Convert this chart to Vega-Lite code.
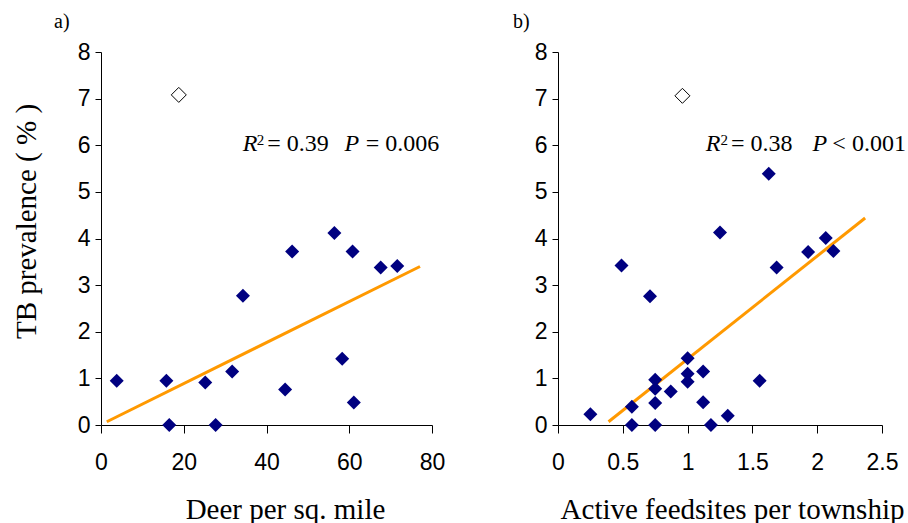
{
  "$schema": "https://vega.github.io/schema/vega-lite/v6.json",
  "background": "white",
  "padding": {"left": 12, "top": 12, "right": 0, "bottom": 0},
  "spacing": 126,
  "bounds": "flush",
  "config": {
    "view": {"stroke": null},
    "axis": {
      "grid": false,
      "labelFlush": false,
      "domainColor": "black",
      "tickColor": "black",
      "labelColor": "black",
      "titleColor": "black",
      "labelFont": "Liberation Sans",
      "labelFontSize": 23,
      "titleFont": "Liberation Serif",
      "titleFontSize": 29,
      "titleFontWeight": "normal"
    },
    "axisX": {"tickSize": 8, "labelPadding": 18, "titlePadding": 21},
    "axisY": {"tickSize": 6, "labelPadding": 5, "titlePadding": 36},
    "title": {"font": "Liberation Serif", "fontSize": 20, "fontWeight": "normal", "color": "black", "anchor": "start", "frame": "group", "offset": 9}
  },
  "datasets": {
    "deerPts": [
      {"deer": 3.8, "tb": 0.95}, {"deer": 15.8, "tb": 0.95}, {"deer": 16.5, "tb": 0},
      {"deer": 25.2, "tb": 0.91}, {"deer": 27.7, "tb": 0}, {"deer": 31.7, "tb": 1.15},
      {"deer": 34.3, "tb": 2.77}, {"deer": 44.5, "tb": 0.76}, {"deer": 46.2, "tb": 3.72},
      {"deer": 56.4, "tb": 4.12}, {"deer": 58.3, "tb": 1.42}, {"deer": 60.8, "tb": 3.72},
      {"deer": 61.1, "tb": 0.48}, {"deer": 67.6, "tb": 3.38}, {"deer": 71.6, "tb": 3.41}
    ],
    "deerOut": [{"deer": 18.8, "tb": 7.08}],
    "deerFit": [{"deer": 1.4, "tb": 0.07}, {"deer": 77.1, "tb": 3.4}],
    "feedPts": [
      {"feed": 0.25, "tb": 0.23}, {"feed": 0.49, "tb": 3.42}, {"feed": 0.57, "tb": 0.39},
      {"feed": 0.57, "tb": 0}, {"feed": 0.71, "tb": 2.76}, {"feed": 0.75, "tb": 0.97},
      {"feed": 0.75, "tb": 0.78}, {"feed": 0.75, "tb": 0.47}, {"feed": 0.75, "tb": 0},
      {"feed": 0.87, "tb": 0.72}, {"feed": 1.0, "tb": 1.43}, {"feed": 1.0, "tb": 1.1},
      {"feed": 1.0, "tb": 0.93}, {"feed": 1.12, "tb": 1.15}, {"feed": 1.12, "tb": 0.49},
      {"feed": 1.18, "tb": 0}, {"feed": 1.25, "tb": 4.13}, {"feed": 1.31, "tb": 0.2},
      {"feed": 1.556, "tb": 0.95}, {"feed": 1.626, "tb": 5.39}, {"feed": 1.687, "tb": 3.38},
      {"feed": 1.93, "tb": 3.71}, {"feed": 2.066, "tb": 4.01}, {"feed": 2.125, "tb": 3.73}
    ],
    "feedOut": [{"feed": 0.96, "tb": 7.06}],
    "feedFit": [{"feed": 0.39, "tb": 0.07}, {"feed": 2.37, "tb": 4.44}]
  },
  "hconcat": [
    {
      "width": 331,
      "height": 373,
      "title": {"text": "a)", "dx": -47},
      "layer": [
        {
          "data": {"name": "deerFit"},
          "mark": {"type": "line", "color": "#FF9900", "strokeWidth": 3},
          "encoding": {
            "x": {"field": "deer", "type": "quantitative", "scale": {"domain": [0, 80], "nice": false},
                  "axis": {"values": [0, 20, 40, 60, 80], "title": "Deer per sq. mile", "titleX": 184}},
            "y": {"field": "tb", "type": "quantitative", "scale": {"domain": [0, 8], "nice": false},
                  "axis": {"values": [0, 1, 2, 3, 4, 5, 6, 7, 8], "title": "TB prevalence ( % )", "titleY": 169}}
          }
        },
        {
          "data": {"name": "deerPts"},
          "mark": {"type": "point", "shape": "diamond", "filled": true, "color": "#000080", "size": 196, "opacity": 1},
          "encoding": {
            "x": {"field": "deer", "type": "quantitative"},
            "y": {"field": "tb", "type": "quantitative"}
          }
        },
        {
          "data": {"name": "deerOut"},
          "mark": {"type": "point", "shape": "diamond", "filled": true, "fill": "white", "stroke": "black", "strokeWidth": 1, "size": 225, "opacity": 1},
          "encoding": {
            "x": {"field": "deer", "type": "quantitative"},
            "y": {"field": "tb", "type": "quantitative"}
          }
        },
        {
          "data": {"values": [{"x": 34.26, "y": 5.867, "t": "R"}, {"x": 58.87, "y": 5.867, "t": "P"}]},
          "mark": {"type": "text", "font": "Liberation Serif", "fontStyle": "italic", "fontSize": 24, "align": "left", "baseline": "alphabetic", "color": "black"},
          "encoding": {"x": {"field": "x", "type": "quantitative"}, "y": {"field": "y", "type": "quantitative"}, "text": {"field": "t"}}
        },
        {
          "data": {"values": [{"x": 37.65, "y": 6.01, "t": "2"}]},
          "mark": {"type": "text", "font": "Liberation Serif", "fontSize": 15, "align": "left", "baseline": "alphabetic", "color": "black"},
          "encoding": {"x": {"field": "x", "type": "quantitative"}, "y": {"field": "y", "type": "quantitative"}, "text": {"field": "t"}}
        },
        {
          "data": {"values": [{"x": 40.2, "y": 5.867, "t": "= 0.39"}, {"x": 63.96, "y": 5.867, "t": "= 0.006"}]},
          "mark": {"type": "text", "font": "Liberation Serif", "fontSize": 24, "align": "left", "baseline": "alphabetic", "color": "black"},
          "encoding": {"x": {"field": "x", "type": "quantitative"}, "y": {"field": "y", "type": "quantitative"}, "text": {"field": "t"}}
        }
      ]
    },
    {
      "width": 324,
      "height": 373,
      "title": {"text": "b)", "dx": -45},
      "layer": [
        {
          "data": {"name": "feedFit"},
          "mark": {"type": "line", "color": "#FF9900", "strokeWidth": 3},
          "encoding": {
            "x": {"field": "feed", "type": "quantitative", "scale": {"domain": [0, 2.5], "nice": false},
                  "axis": {"values": [0, 0.5, 1, 1.5, 2, 2.5], "format": "~g", "title": "Active feedsites per township", "titleX": 174}},
            "y": {"field": "tb", "type": "quantitative", "scale": {"domain": [0, 8], "nice": false},
                  "axis": {"values": [0, 1, 2, 3, 4, 5, 6, 7, 8], "title": null}}
          }
        },
        {
          "data": {"name": "feedPts"},
          "mark": {"type": "point", "shape": "diamond", "filled": true, "color": "#000080", "size": 196, "opacity": 1},
          "encoding": {
            "x": {"field": "feed", "type": "quantitative"},
            "y": {"field": "tb", "type": "quantitative"}
          }
        },
        {
          "data": {"name": "feedOut"},
          "mark": {"type": "point", "shape": "diamond", "filled": true, "fill": "white", "stroke": "black", "strokeWidth": 1, "size": 225, "opacity": 1},
          "encoding": {
            "x": {"field": "feed", "type": "quantitative"},
            "y": {"field": "tb", "type": "quantitative"}
          }
        },
        {
          "data": {"values": [{"x": 1.14, "y": 5.867, "t": "R"}, {"x": 1.963, "y": 5.867, "t": "P"}]},
          "mark": {"type": "text", "font": "Liberation Serif", "fontStyle": "italic", "fontSize": 24, "align": "left", "baseline": "alphabetic", "color": "black"},
          "encoding": {"x": {"field": "x", "type": "quantitative"}, "y": {"field": "y", "type": "quantitative"}, "text": {"field": "t"}}
        },
        {
          "data": {"values": [{"x": 1.253, "y": 6.01, "t": "2"}]},
          "mark": {"type": "text", "font": "Liberation Serif", "fontSize": 15, "align": "left", "baseline": "alphabetic", "color": "black"},
          "encoding": {"x": {"field": "x", "type": "quantitative"}, "y": {"field": "y", "type": "quantitative"}, "text": {"field": "t"}}
        },
        {
          "data": {"values": [{"x": 1.335, "y": 5.867, "t": "= 0.38"}, {"x": 2.117, "y": 5.867, "t": "< 0.001"}]},
          "mark": {"type": "text", "font": "Liberation Serif", "fontSize": 24, "align": "left", "baseline": "alphabetic", "color": "black"},
          "encoding": {"x": {"field": "x", "type": "quantitative"}, "y": {"field": "y", "type": "quantitative"}, "text": {"field": "t"}}
        }
      ]
    }
  ]
}
